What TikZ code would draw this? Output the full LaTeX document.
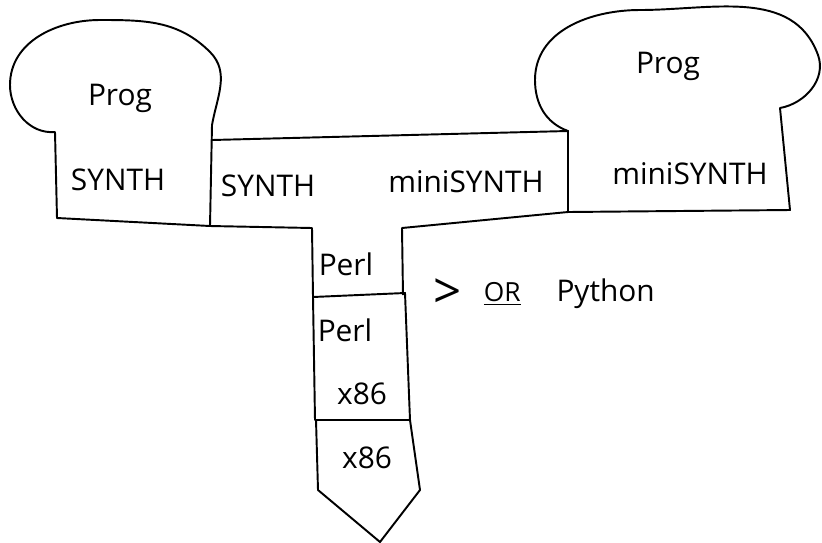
\documentclass[tikz,border=0pt]{standalone}
\usepackage{fontspec}
\setmainfont{Open Sans}
\usepackage{tikz}
\usetikzlibrary{positioning}

\begin{document}
\begin{tikzpicture}[
    x=0.02cm, y=-0.02cm,
    edge/.style={draw, line width=1.1pt, line join=round},
    lbl/.style={font=\fontsize{17}{20}\selectfont, inner sep=1pt}
]
\useasboundingbox (0,0) rectangle (822,542);

% program on the left
\path[edge] (57,218) -- (55,132) to[out=185,in=270] (10,85) to[out=90,in=180] (100,20)
    to[out=0,in=135] (210,52) to[out=-45,in=80] (212,125) -- (210,226) -- cycle;
\node[lbl] (prog1) at (120,98) {Prog};
\node[lbl] (synth1) at (118,180) {SYNTH};

% compiler
\path[edge] (212,140) -- (568,131) -- (568,212) -- (402,228) -- (403,295)
    (313,297) -- (312,228) -- (210,226);
\node[lbl] (synth2) at (268,186) {SYNTH};
\node[lbl] (mini2) at (466,182) {miniSYNTH};
\node[lbl] (perl1) at (346,264) {Perl};

% program on the right
\path[edge] (568,131) to[out=160,in=270] (535,80) to[out=90,in=180] (640,10)
    to[out=0,in=110] (818,55) to[out=-70,in=10] (780,108) -- (790,210) -- (568,212);
\node[lbl] (prog2) at (668,66) {Prog};
\node[lbl] (mini3) at (690,174) {miniSYNTH};

% interpreter
\path[edge] (313,297) -- (405,293) -- (410,420) -- (315,420) -- cycle;
\node[lbl] (perl2) at (345,330) {Perl};
\node[lbl] (x86a) at (362,394) {x86};

% machine
\path[edge] (316,420) -- (318,490) -- (380,542) -- (420,490) -- (410,420);
\node[lbl] (x86b) at (367,458) {x86};

% alternative
\node[lbl, font=\fontsize{28}{30}\selectfont] (gt) at (448,294) {>};
\node[lbl, font=\fontsize{15}{18}\selectfont, right=10pt of gt] (or) {\underline{OR}};
\node[lbl, right=18pt of or] (python) {Python};
\end{tikzpicture}
\end{document}
